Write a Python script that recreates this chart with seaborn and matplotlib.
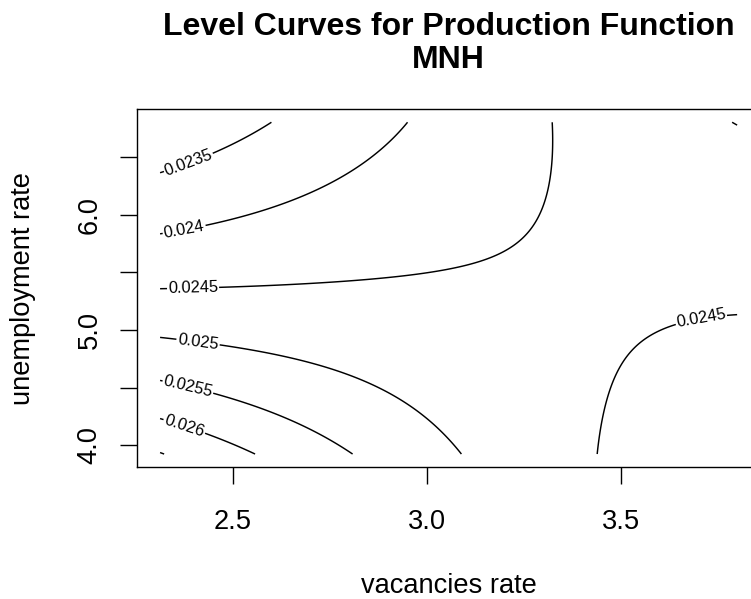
import numpy as np
import matplotlib
matplotlib.use("Agg")
import matplotlib.pyplot as plt
import seaborn as sns

# Contour levels of the MNH production surface
levels = [0.0235, 0.024, 0.0245, 0.025, 0.0255, 0.026, 0.0265]
labelled_levels = [0.0235, 0.024, 0.0245, 0.025, 0.0255, 0.026]

# Observed extent of the grid (vacancies rate, unemployment rate)
vacancies_range = [2.313, 3.80]
unemployment_range = [3.925, 6.799]

# Traced level curves: points (vacancies rate, unemployment rate) on each level
lvl_0235_x = [2.313, 2.386, 2.460, 2.493, 2.536, 2.581]
lvl_0235_y = [6.339, 6.450, 6.556, 6.599, 6.700, 6.799]

lvl_0240_x = [2.313, 2.375, 2.437, 2.579, 2.665, 2.751, 2.837, 2.888, 2.940]
lvl_0240_y = [5.830, 5.870, 5.911, 6.020, 6.122, 6.243, 6.425, 6.570, 6.799]

lvl_0245a_x = [2.313, 2.398, 2.476, 2.579, 2.751, 2.923, 3.009, 3.094, 3.180,
               3.223, 3.258, 3.284, 3.305, 3.318, 3.331, 3.339]
lvl_0245a_y = [5.364, 5.370, 5.375, 5.390, 5.412, 5.456, 5.485, 5.528, 5.644,
               5.746, 5.861, 6.006, 6.208, 6.410, 6.614, 6.799]

lvl_0245b_x = [3.436, 3.447, 3.472, 3.507, 3.558, 3.634, 3.708, 3.800]
lvl_0245b_y = [3.925, 4.212, 4.530, 4.733, 4.906, 5.008, 5.085, 5.132]

lvl_0250a_x = [2.313, 2.347, 2.411, 2.476, 2.579, 2.708, 2.837, 2.965, 3.009, 3.060, 3.103]
lvl_0250a_y = [4.944, 4.944, 4.900, 4.872, 4.819, 4.704, 4.559, 4.327, 4.240, 4.082, 3.925]

lvl_0250b_x = [3.784, 3.800]
lvl_0250b_y = [6.799, 6.723]

lvl_0255_x = [2.313, 2.385, 2.459, 2.579, 2.708, 2.809]
lvl_0255_y = [4.580, 4.510, 4.437, 4.299, 4.096, 3.925]

lvl_0260_x = [2.313, 2.375, 2.435, 2.492, 2.549]
lvl_0260_y = [4.232, 4.160, 4.090, 4.010, 3.925]

lvl_0265_x = [2.313]
lvl_0265_y = [3.925]

# Estimated surface values away from the curves
extra_x = [3.800, 3.390, 2.313, 3.800]
extra_y = [3.925, 5.250, 6.799, 6.000]
extra_z = [0.0242, 0.02455, 0.0231, 0.0247]

# Where the contour labels sit
label_x = [2.386, 2.375, 2.398, 2.411, 2.385, 2.375, 3.708]
label_y = [6.450, 5.870, 5.364, 4.900, 4.510, 4.160, 5.085]

# Assemble the traced points
curves = [
    (0.0235, lvl_0235_x, lvl_0235_y),
    (0.0240, lvl_0240_x, lvl_0240_y),
    (0.0245, lvl_0245a_x, lvl_0245a_y),
    (0.0245, lvl_0245b_x, lvl_0245b_y),
    (0.0250, lvl_0250a_x, lvl_0250a_y),
    (0.0250, lvl_0250b_x, lvl_0250b_y),
    (0.0255, lvl_0255_x, lvl_0255_y),
    (0.0260, lvl_0260_x, lvl_0260_y),
    (0.0265, lvl_0265_x, lvl_0265_y),
]
px = np.concatenate([np.asarray(cx, float) for _, cx, _ in curves] + [np.asarray(extra_x)])
py = np.concatenate([np.asarray(cy, float) for _, _, cy in curves] + [np.asarray(extra_y)])
pz = np.concatenate([np.full(len(cx), lv) for lv, cx, _ in curves] + [np.asarray(extra_z)])

DEG = 4


def basis(x, y):
    u = (np.asarray(x) - 3.05) / 0.75
    v = (np.asarray(y) - 5.36) / 1.44
    return np.stack([u ** i * v ** j for i in range(DEG + 1) for j in range(DEG + 1 - i)], axis=-1)


# Polynomial surface through the traced levels (gradient-weighted least squares)
w = np.ones_like(pz)
h = 1e-4
for _ in range(6):
    coef = np.linalg.lstsq(basis(px, py) * w[:, None], pz * w, rcond=None)[0]
    gx = (basis(px + h, py) - basis(px - h, py)) @ coef / (2 * h) / 388.0
    gy = (basis(px, py + h) - basis(px, py - h)) @ coef / (2 * h) / 115.2
    g = np.hypot(gx, gy)
    w = 1.0 / np.clip(g, np.median(g) * 0.2, None)
    w = w / w.mean()

xs = np.linspace(vacancies_range[0], vacancies_range[1], 400)
ys = np.linspace(unemployment_range[0], unemployment_range[1], 400)
X, Y = np.meshgrid(xs, ys)
Z = basis(X, Y) @ coef

# Styling
sns.set_theme(style="ticks")
plt.rcParams["font.family"] = ["Liberation Sans", "DejaVu Sans"]
plt.rcParams["text.color"] = "black"
plt.rcParams["axes.labelcolor"] = "black"
plt.rcParams["axes.edgecolor"] = "black"
plt.rcParams["axes.linewidth"] = 1.0
plt.rcParams["xtick.color"] = "black"
plt.rcParams["ytick.color"] = "black"

fig = plt.figure(figsize=(7.51, 5.99), dpi=100)
fig.patch.set_facecolor("white")
ax = fig.add_axes([137.0 / 751, 1 - 467.3 / 599, (760.2 - 137.0) / 751, (467.3 - 109.0) / 599])
ax.set_facecolor("white")

cs = ax.contour(X, Y, Z, levels=levels, colors="black", linewidths=1.05)
ax.clabel(cs, labelled_levels, inline=True, inline_spacing=3, fontsize=11.8, colors="black",
          fmt=lambda v: f"{v:g}", manual=list(zip(label_x, label_y)))

# Axis extents padded by 4% on each side
xr = vacancies_range[1] - vacancies_range[0]
yr = unemployment_range[1] - unemployment_range[0]
ax.set_xlim(vacancies_range[0] - 0.04 * xr, vacancies_range[1] + 0.04 * xr)
ax.set_ylim(unemployment_range[0] - 0.04 * yr, unemployment_range[1] + 0.04 * yr)

ax.set_xticks([2.5, 3.0, 3.5])
ax.set_xticklabels(["2.5", "3.0", "3.5"])
ax.set_yticks([4.0, 4.5, 5.0, 5.5, 6.0, 6.5])
ax.set_yticklabels(["4.0", "", "5.0", "", "6.0", ""], rotation=90, va="center")
ax.tick_params(axis="both", direction="out", length=12, width=1.0, labelsize=19.6,
               colors="black", labelcolor="black")
ax.tick_params(axis="x", pad=18.2)
ax.tick_params(axis="y", pad=12.9)

ax.set_xlabel("vacancies rate", fontsize=19.6, va="baseline", color="black")
ax.xaxis.set_label_coords(0.5, -0.3508)
ax.set_ylabel("unemployment rate", fontsize=19.6, va="baseline", color="black")
ax.yaxis.set_label_coords(-0.1717, 0.5)

ax.set_title("Level Curves for Production Function\nMNH", fontsize=23, fontweight="bold",
             linespacing=1.15, pad=29.3, color="black")

for s in ax.spines.values():
    s.set_visible(True)
    s.set_color("black")

fig.savefig("out.png", dpi=100, facecolor="white")
